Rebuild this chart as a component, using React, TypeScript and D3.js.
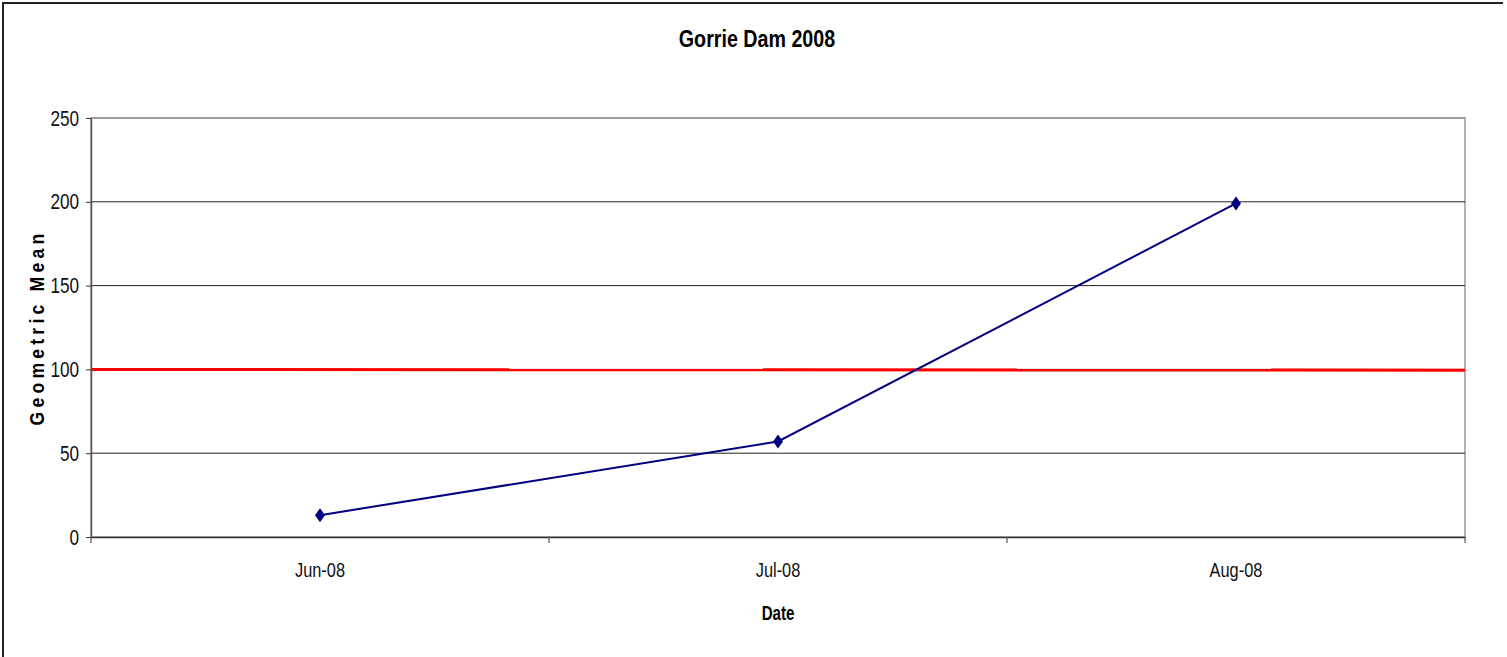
import * as d3 from "d3";
import { useEffect, useRef } from "react";

const months = ["Jun-08", "Jul-08", "Aug-08"];
const geoMean = [13, 57, 199];
const threshold = [100, 99.5];
const yTicks = [0, 50, 100, 150, 200, 250];

const WIDTH = 1507;
const HEIGHT = 657;
const MARGIN = { top: 118, right: 42, bottom: 120, left: 91 };
const FONT = "'Liberation Sans', Arial, sans-serif";
// narrow look: squeeze text horizontally
const SQ = 0.78;

export default function App() {
  const svgRef = useRef<SVGSVGElement | null>(null);

  useEffect(() => {
    if (!svgRef.current) return;
    const svg = d3.select(svgRef.current);
    svg.selectAll("*").remove();

    const innerW = WIDTH - MARGIN.left - MARGIN.right;
    const innerH = HEIGHT - MARGIN.top - MARGIN.bottom;

    const x = d3.scaleBand<string>().domain(months).range([0, innerW]).padding(0);
    const y = d3.scaleLinear().domain([0, 250]).range([innerH, 0]);

    // outer frame (only top and left edges visible)
    svg
      .append("path")
      .attr("d", `M3,${HEIGHT} V3 H${WIDTH - 4}`)
      .attr("fill", "none")
      .attr("stroke", "#222")
      .attr("stroke-width", 2);

    svg
      .append("g")
      .attr("transform", `translate(757,47) scale(0.82,1)`)
      .append("text")
      .attr("text-anchor", "middle")
      .attr("font-family", FONT)
      .attr("font-weight", "bold")
      .attr("font-size", 24)
      .text("Gorrie Dam 2008");

    const root = svg.append("g").attr("transform", `translate(${MARGIN.left},${MARGIN.top})`);

    // plot border
    root
      .append("rect")
      .attr("width", innerW)
      .attr("height", innerH)
      .attr("fill", "none")
      .attr("stroke", "#999")
      .attr("stroke-width", 1.5);

    // gridlines
    root
      .append("g")
      .selectAll("line")
      .data(yTicks.filter((t) => t > 0))
      .join("line")
      .attr("x1", 0)
      .attr("x2", innerW)
      .attr("y1", (d) => y(d))
      .attr("y2", (d) => y(d))
      .attr("stroke", (d) => (d === 250 ? "#888" : "#222"))
      .attr("stroke-width", 1);

    const yAxis = root
      .append("g")
      .call(d3.axisLeft(y).tickValues(yTicks).tickSize(5).tickPadding(7).tickSizeOuter(0));
    yAxis.select(".domain").attr("stroke", "#555").attr("stroke-width", 1.5);
    yAxis.selectAll(".tick line").attr("stroke", "#333");
    yAxis
      .selectAll("text")
      .attr("font-family", FONT)
      .attr("font-size", 22)
      .attr("fill", "#111")
      .attr("x", -12 / SQ)
      .attr("transform", `scale(${SQ},1)`);

    const xAxis = root
      .append("g")
      .attr("transform", `translate(0,${innerH})`)
      .call(d3.axisBottom(x).tickSize(0).tickPadding(25));
    xAxis.select(".domain").attr("stroke", "#333").attr("stroke-width", 1.5);
    xAxis
      .selectAll("text")
      .attr("font-family", FONT)
      .attr("font-size", 21)
      .attr("fill", "#111")
      .attr("transform", `scale(${SQ},1)`);

    // category separators
    root
      .append("g")
      .selectAll("line")
      .data([0, ...months.map((m) => (x(m) ?? 0) + x.bandwidth())])
      .join("line")
      .attr("x1", (d) => d)
      .attr("x2", (d) => d)
      .attr("y1", innerH)
      .attr("y2", innerH + 6)
      .attr("stroke", "#555")
      .attr("stroke-width", 1.2);

    // threshold line
    const tx = d3.scaleLinear().domain([0, threshold.length - 1]).range([0, innerW]);
    root
      .append("path")
      .datum(threshold)
      .attr("fill", "none")
      .attr("stroke", "#ff0000")
      .attr("stroke-width", 3)
      .attr(
        "d",
        d3
          .line<number>()
          .x((_, i) => tx(i))
          .y((d) => y(d)),
      );

    const cx = (i: number) => (x(months[i]) ?? 0) + x.bandwidth() / 2;

    root
      .append("path")
      .datum(geoMean)
      .attr("fill", "none")
      .attr("stroke", "#000080")
      .attr("stroke-width", 2)
      .attr(
        "d",
        d3
          .line<number>()
          .x((_, i) => cx(i))
          .y((d) => y(d)),
      );

    root
      .append("g")
      .selectAll("path")
      .data(geoMean)
      .join("path")
      .attr("transform", (d, i) => `translate(${cx(i)},${y(d)})`)
      .attr("d", "M0,-7 L5,0 L0,7 L-5,0 Z")
      .attr("fill", "#000080");

    svg
      .append("g")
      .attr("transform", `translate(${MARGIN.left + innerW / 2},620) scale(0.72,1)`)
      .append("text")
      .attr("text-anchor", "middle")
      .attr("font-family", FONT)
      .attr("font-weight", "bold")
      .attr("font-size", 21)
      .text("Date");

    svg
      .append("g")
      .attr("transform", `translate(44,${MARGIN.top + innerH / 2}) rotate(-90) scale(0.84,1)`)
      .append("text")
      .attr("text-anchor", "middle")
      .attr("font-family", FONT)
      .attr("font-weight", "bold")
      .attr("font-size", 21)
      .attr("letter-spacing", 5)
      .text("Geometric Mean");
  }, []);

  return (
    <div style={{ position: "absolute", left: 0, top: 0 }}>
      <svg ref={svgRef} width={WIDTH} height={HEIGHT} style={{ display: "block" }} />
    </div>
  );
}
